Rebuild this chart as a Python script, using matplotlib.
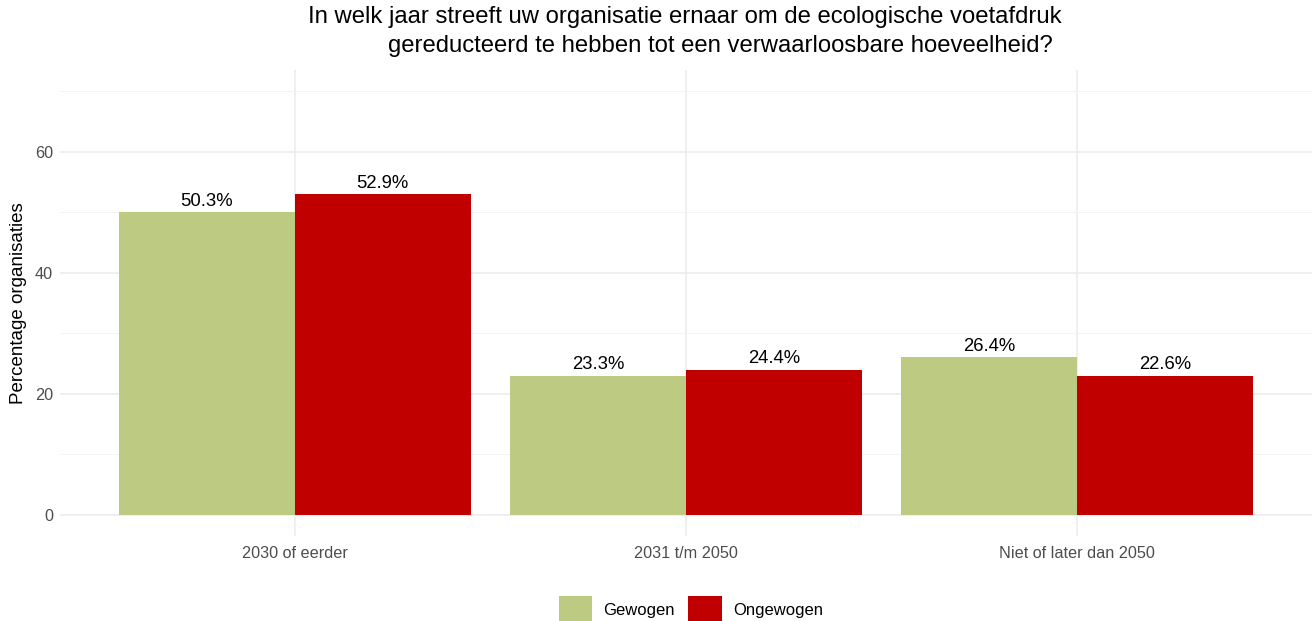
import numpy as np
import matplotlib.pyplot as plt
from matplotlib.patches import Patch

categories = ["2030 of eerder", "2031 t/m 2050", "Niet of later dan 2050"]
series = ["Gewogen", "Ongewogen"]
# bar heights (rounded) and the printed labels
gewogen = [50, 23, 26]
ongewogen = [53, 24, 23]
gewogen_lbl = ["50.3%", "23.3%", "26.4%"]
ongewogen_lbl = ["52.9%", "24.4%", "22.6%"]
colors = ["#BDCB82", "#C00000"]

plt.rcParams['font.family'] = ['Liberation Sans', 'DejaVu Sans']

fig = plt.figure(figsize=(13.12, 6.21), dpi=100)
ax = fig.add_axes([60/1312, (621-536)/621, 1252/1312, 466/621])

x = np.arange(1, len(categories) + 1)
w = 0.45
for vals, lbls, col, off in [(gewogen, gewogen_lbl, colors[0], -w/2),
                             (ongewogen, ongewogen_lbl, colors[1], w/2)]:
    bars = ax.bar(x + off, vals, width=w, color=col, zorder=2)
    for b, l in zip(bars, lbls):
        ax.text(b.get_x() + b.get_width()/2, b.get_height() + 0.4, l,
                ha='center', va='bottom', fontsize=13.3, color='black')

ax.set_xlim(0.4, 3.6)
ax.set_ylim(-3.5, 73.5)
ax.set_xticks(x)
ax.set_xticklabels(categories)
ax.set_yticks([0, 20, 40, 60])
ax.set_yticks([10, 30, 50, 70], minor=True)
ax.grid(True, which='major', color='#EBEBEB', linewidth=1.1, zorder=0)
ax.grid(True, which='minor', axis='y', color='#F3F3F3', linewidth=0.6, zorder=0)
ax.tick_params(which='both', length=0, labelsize=11.7, labelcolor='#4D4D4D')
ax.tick_params(axis='x', pad=7)
ax.tick_params(axis='y', pad=5)
for s in ax.spines.values():
    s.set_visible(False)
ax.set_ylabel("Percentage organisaties", fontsize=13.5, labelpad=6)

fig.text(308/1312, 1 - 6/621, "In welk jaar streeft uw organisatie ernaar om de ecologische voetafdruk",
         ha='left', va='top', fontsize=17.2)
fig.text(388/1312, 1 - 35/621, "gereducteerd te hebben tot een verwaarloosbare hoeveelheid?",
         ha='left', va='top', fontsize=17.2)

handles = [Patch(facecolor=c, label=s) for c, s in zip(colors, series)]
fig.legend(handles=handles, loc='center', bbox_to_anchor=(691/1312, 1 - 610/621), ncol=2,
           frameon=False, fontsize=12, handlelength=2.0, handleheight=2.2,
           handletextpad=0.7, columnspacing=0.8)

fig.savefig("out.png", dpi=100)
